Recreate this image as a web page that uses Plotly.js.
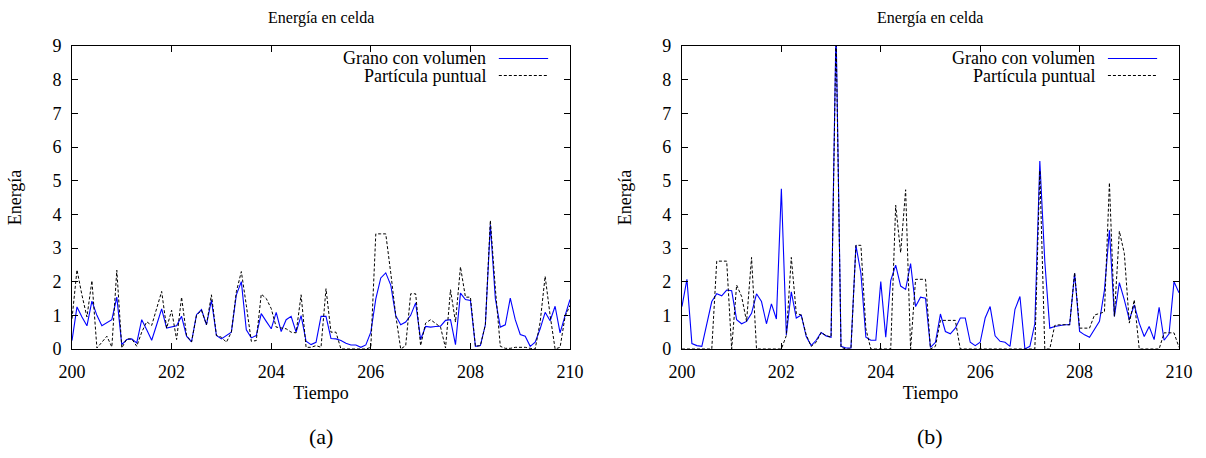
<!DOCTYPE html>
<html>
<head>
<meta charset="utf-8">
<script src="https://cdn.plot.ly/plotly-3.0.1.min.js"></script>
<style>html,body{margin:0;padding:0;background:#fff;}#chart{width:1206px;height:458px;}</style>
</head>
<body>
<div id="chart"></div>
<script>
// Time axis (shared by all series)
const tiempo = [200.0,200.1,200.2,200.3,200.4,200.5,200.6,200.7,200.8,200.9,
 201.0,201.1,201.2,201.3,201.4,201.5,201.6,201.7,201.8,201.9,
 202.0,202.1,202.2,202.3,202.4,202.5,202.6,202.7,202.8,202.9,
 203.0,203.1,203.2,203.3,203.4,203.5,203.6,203.7,203.8,203.9,
 204.0,204.1,204.2,204.3,204.4,204.5,204.6,204.7,204.8,204.9,
 205.0,205.1,205.2,205.3,205.4,205.5,205.6,205.7,205.8,205.9,
 206.0,206.1,206.2,206.3,206.4,206.5,206.6,206.7,206.8,206.9,
 207.0,207.1,207.2,207.3,207.4,207.5,207.6,207.7,207.8,207.9,
 208.0,208.1,208.2,208.3,208.4,208.5,208.6,208.7,208.8,208.9,
 209.0,209.1,209.2,209.3,209.4,209.5,209.6,209.7,209.8,209.9,210.0];

// (a) Grano con volumen
const granoA = [0.25,1.25,0.95,0.69,1.42,1.0,0.69,0.77,0.87,1.54,
 0.13,0.28,0.3,0.18,0.87,0.57,0.26,0.72,1.19,0.62,
 0.65,0.69,0.97,0.38,0.21,1.02,1.17,0.72,1.45,0.4,
 0.3,0.4,0.5,1.61,2.0,0.57,0.33,0.4,1.05,0.82,
 0.6,1.09,0.52,0.87,0.97,0.5,0.99,0.23,0.13,0.2,
 0.97,0.97,0.31,0.3,0.25,0.17,0.12,0.12,0.05,0.12,
 0.5,1.49,2.11,2.26,1.9,0.99,0.72,0.8,1.0,1.37,
 0.28,0.67,0.65,0.67,0.68,0.85,0.87,0.13,1.66,1.47,
 1.44,0.08,0.1,0.72,3.69,1.5,0.65,0.72,1.51,0.87,
 0.43,0.38,0.08,0.2,0.6,1.09,0.84,1.27,0.48,0.99,1.47];

// (a) Partícula puntual
const puntualA = [0.9,2.35,1.6,0.95,2.03,0.03,0.2,0.38,0.06,2.34,
 0.03,0.3,0.3,0.08,0.5,0.81,0.7,1.2,1.71,0.62,
 1.15,0.28,1.54,0.4,0.21,1.0,1.15,0.72,1.61,0.4,
 0.35,0.2,0.5,1.7,2.3,1.3,0.23,0.25,1.63,1.5,
 1.2,0.65,0.62,0.6,0.5,0.48,1.61,0.05,0.05,0.1,
 0.05,1.79,0.5,0.5,0,0,0,0,0,0,
 0.05,3.42,3.42,3.42,2.26,1.0,0,0.1,1.64,1.64,
 0.1,0.77,0.87,0.75,0.65,0.03,1.76,0.8,2.44,1.54,
 1.54,0.08,0.1,0.72,3.82,1.8,0.08,0.02,0.02,0.05,
 0.05,0.05,0.02,0,0.8,2.16,1.0,0,0.05,0.96,1.3];

// (b) Grano con volumen
const granoB = [1.26,2.07,0.16,0.1,0.08,0.77,1.41,1.64,1.58,1.75,
 1.73,0.87,0.75,0.82,1.06,1.64,1.41,0.75,1.34,0.89,
 4.76,0.42,1.7,0.92,1.01,0.37,0.1,0.26,0.49,0.39,
 0.35,9.6,0.08,0.03,0.03,3.08,2.25,0.35,0.26,0.26,
 2.0,0.35,2.03,2.49,1.87,1.77,2.54,1.26,1.54,1.51,
 0.05,0.2,1.04,0.52,0.45,0.62,0.92,0.92,0.2,0.1,
 0.2,0.92,1.26,0.39,0.23,0.2,0.08,1.18,1.56,0,
 0.08,0.75,5.58,2.6,0.62,0.67,0.7,0.72,0.72,2.25,
 0.52,0.42,0.35,0.57,0.82,1.75,3.53,0.97,1.97,1.46,
 0.87,1.31,0.77,0.37,0.67,0.28,1.24,0.26,0.45,2.0,1.67];

// (b) Partícula puntual
const puntualB = [0,0,0,0,0,0,0,2.61,2.61,2.61,
 0,1.9,1.56,0.82,2.72,0,0,0,0,0,
 0,0.4,2.72,1.06,1.01,0.42,0.08,0.2,0.49,0.4,
 0.35,9.4,0.05,0,0,3.08,3.08,0.6,0,0,
 0,0,0,4.27,2.86,4.73,0,2.07,2.07,2.07,
 0,0.08,0.85,0.85,0.85,0.85,0,0,0,0,
 0,0,0,0,0,0,0,0,0,0,
 0,0,5.3,0,0,0.7,0.72,0.72,0.72,2.27,
 0.62,0.62,0.62,1.01,1.06,1.1,4.94,0.97,3.5,2.84,
 0.77,1.46,0,0,0,0,0,0.48,0.48,0.48,0.05];

const xTicks = [200,202,204,206,208,210];
const yTicks = [0,1,2,3,4,5,6,7,8,9];
const serieNames = ['Grano con volumen','Partícula puntual'];
const plotTitle = 'Energía en celda';
const captions = ['(a)','(b)'];

const FONT = "'Liberation Serif', 'DejaVu Serif', serif";
const BLUE = 'rgb(0,0,255)';

const traces = [
  {x: tiempo, y: granoA, xaxis:'x', yaxis:'y', name: serieNames[0], mode:'lines', line:{color:BLUE, width:1.1}},
  {x: tiempo, y: puntualA, xaxis:'x', yaxis:'y', name: serieNames[1], mode:'lines', line:{color:'#000', width:1, dash:'3px,2px'}},
  {x: tiempo, y: granoB, xaxis:'x2', yaxis:'y2', name: serieNames[0], mode:'lines', line:{color:BLUE, width:1.1}},
  {x: tiempo, y: puntualB, xaxis:'x2', yaxis:'y2', name: serieNames[1], mode:'lines', line:{color:'#000', width:1, dash:'3px,2px'}}
];

function xax(dom, anchor){
  return {domain: dom, anchor: anchor, range:[200,210], tickvals: xTicks, ticktext: xTicks.map(String),
    ticks:'inside', ticklen:6, tickcolor:'#000', showline:true, linecolor:'#000', linewidth:1, mirror:'ticks',
    showgrid:false, zeroline:false, tickfont:{family:FONT, size:18, color:'#000'}, ticklabelstandoff:6,
    title:{text:'Tiempo', font:{family:FONT, size:18, color:'#000'}, standoff:5}, automargin:false};
}
function yax(anchor){
  return {domain:[0,1], anchor: anchor, range:[0,9], tickvals: yTicks, ticktext: yTicks.map(String),
    ticks:'inside', ticklen:6, tickcolor:'#000', showline:true, linecolor:'#000', linewidth:1, mirror:'ticks',
    showgrid:false, zeroline:false, tickfont:{family:FONT, size:18, color:'#000'}, ticklabelstandoff:6,
    title:{text:'Energía', font:{family:FONT, size:18, color:'#000'}, standoff:26}, automargin:false};
}

const LEG_Y = [0.95875, 0.90264];
const annotations = [];
const shapes = [];
[['x','y'],['x2','y2']].forEach(([xa,ya], i) => {
  annotations.push({text: plotTitle, xref: xa+' domain', yref: ya+' domain', x:0.5, y:1.0924, xanchor:'center', yanchor:'middle', showarrow:false, font:{family:FONT, size:16, color:'#000'}});
  annotations.push({text: captions[i], xref: xa+' domain', yref: ya+' domain', x:0.5, y:-0.29, xanchor:'center', yanchor:'middle', showarrow:false, font:{family:FONT, size:22, color:'#000'}});
  annotations.push({text: serieNames[0], xref: xa+' domain', yref: ya+' domain', x:0.834, y:LEG_Y[0], xanchor:'right', yanchor:'middle', showarrow:false, borderpad:0, font:{family:FONT, size:18, color:'#000'}});
  annotations.push({text: serieNames[1], xref: xa+' domain', yref: ya+' domain', x:0.834, y:LEG_Y[1], xanchor:'right', yanchor:'middle', showarrow:false, borderpad:0, font:{family:FONT, size:18, color:'#000'}});
  shapes.push({type:'line', layer:'above', xref: xa+' domain', yref: ya+' domain', x0:0.857, x1:0.956, y0:LEG_Y[0], y1:LEG_Y[0], line:{color:BLUE, width:1.2}});
  shapes.push({type:'line', layer:'above', xref: xa+' domain', yref: ya+' domain', x0:0.857, x1:0.956, y0:LEG_Y[1], y1:LEG_Y[1], line:{color:'#000', width:1, dash:'3px,2px'}});
});

const layout = {
  width:1206, height:458,
  margin:{l:72, r:27, t:46, b:109},
  paper_bgcolor:'#fff', plot_bgcolor:'#fff',
  showlegend:false,
  font:{family:FONT, color:'#000'},
  xaxis: xax([0,0.4499],'y'),
  yaxis: yax('x'),
  xaxis2: xax([0.551,1],'y2'),
  yaxis2: yax('x2'),
  annotations: annotations,
  shapes: shapes
};

Plotly.newPlot('chart', traces, layout, {displayModeBar:false, staticPlot:true});
</script>
</body>
</html>
